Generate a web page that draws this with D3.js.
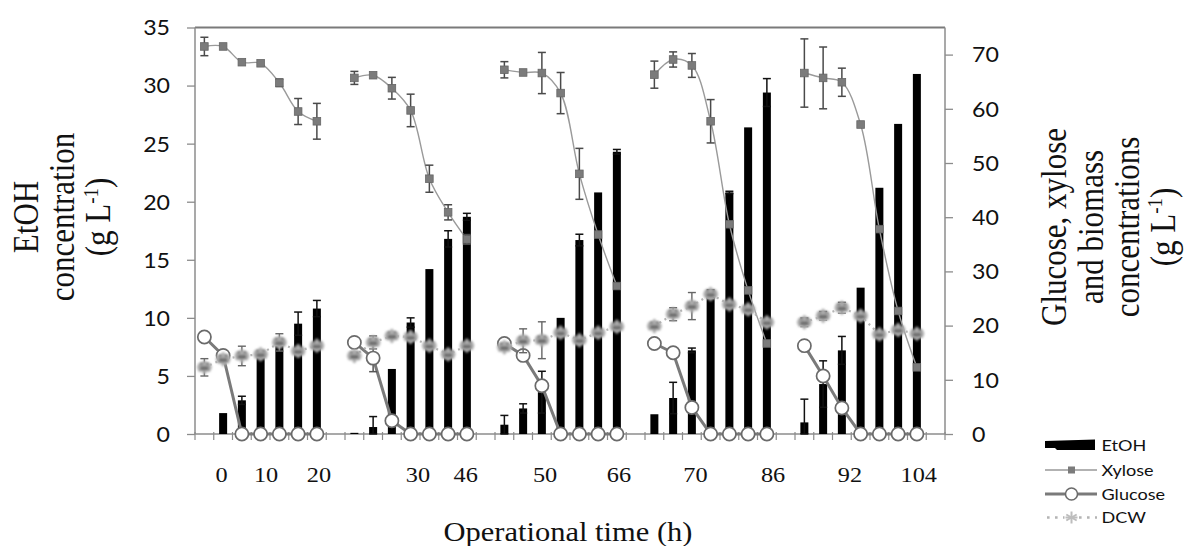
<!DOCTYPE html>
<html>
<head>
<meta charset="utf-8">
<script src="https://cdn.jsdelivr.net/npm/d3@7"></script>
<style>
  body { margin: 0; background: #fff; }
  svg { display: block; }
</style>
</head>
<body>
<svg id="chart" width="1185" height="546"></svg>
<script>
// Five fed-batch cycles of seven samples each; an empty slot separates the cycles.
const slotCount = 40;

// EtOH concentration (g/L, left axis) and its standard deviation
const etoh    = [0, 1.8, 2.9, 6.6, 7.6, 9.5, 10.8, null,
                 0.1, 0.6, 5.6, 9.6, 14.2, 16.8, 18.7, null,
                 0.8, 2.2, 3.6, 10.0, 16.7, 20.8, 24.3, null,
                 1.7, 3.1, 7.2, 11.8, 20.8, 26.4, 29.4, null,
                 1.0, 4.3, 7.2, 12.6, 21.2, 26.7, 31.0, null];
const etohErr = [0, 0, 0.35, 0, 0, 1.0, 0.7, null,
                 0, 0.9, 0, 0.4, 0, 0.7, 0.3, null,
                 0.8, 0.4, 1.8, 0, 0.5, 0, 0.2, null,
                 0, 1.35, 0.2, 0, 0.1, 0, 1.2, null,
                 2.0, 2.0, 1.2, 0, 0, 0, 0, null];

// Xylose, glucose and biomass (DCW) concentrations (g/L, right axis)
const xylose    = [71.5, 71.5, 68.6, 68.4, 64.8, 59.5, 57.7, null,
                   65.7, 66.2, 63.8, 59.7, 47.1, 40.9, 35.9, null,
                   67.2, 66.7, 66.6, 62.9, 48.0, 36.8, 27.3, null,
                   66.3, 69.1, 68.0, 57.7, 38.7, 26.5, 16.7, null,
                   66.6, 65.7, 64.9, 57.1, 37.8, 22.7, 12.3, null];
const xyloseErr = [1.7, 0, 0, 0, 0.7, 2.4, 3.3, null,
                   1.2, 0, 2.0, 3.0, 2.5, 1.4, 0.9, null,
                   1.5, 0, 3.8, 3.8, 4.7, 0, 0, null,
                   2.5, 1.4, 2.2, 4.0, 0, 0, 0, null,
                   6.3, 5.7, 2.6, 0, 0, 0, 0, null];
const glucose    = [17.9, 14.5, 0, 0, 0, 0, 0, null,
                    16.9, 14.0, 2.45, 0, 0, 0, 0, null,
                    16.7, 14.5, 8.9, 0, 0, 0, 0, null,
                    16.7, 15.0, 4.9, 0, 0, 0, 0, null,
                    16.3, 10.7, 4.8, 0, 0, 0, 0, null];
const glucoseErr = [0, 0, 0, 0, 0, 0, 0, null,
                    0, 2.5, 0, 0, 0, 0, 0, null,
                    0, 0, 0, 0, 0, 0, 0, null,
                    0, 0, 0, 0, 0, 0, 0, null,
                    0, 0, 0, 0, 0, 0, 0, null];
const dcw    = [12.3, 13.8, 14.4, 14.7, 16.9, 15.3, 16.3, null,
                14.4, 16.9, 18.1, 17.9, 16.3, 14.7, 16.3, null,
                16.0, 17.2, 17.3, 18.7, 17.3, 18.7, 19.8, null,
                19.9, 22.1, 23.6, 25.8, 23.9, 23.0, 20.6, null,
                20.6, 21.8, 23.3, 21.8, 18.4, 19.2, 18.5, null];
const dcwErr = [1.6, 0, 1.8, 0, 1.6, 0, 0, null,
                0, 1.2, 0, 0, 0, 0, 0, null,
                0, 2.2, 3.4, 0, 0, 0, 0, null,
                0, 1.2, 2.5, 0.8, 0, 0, 0, null,
                0.8, 0.8, 1.0, 0, 0, 0, 0, null];

// Operational time labels and the slot each one sits under
const timeLabels = ["0", "10", "20", "30", "46", "50", "66", "70", "86", "92", "104"];
const timeSlots  = [0.92, 3.29, 6.11, 11.39, 13.94, 18.17, 22.11, 26.19, 30.33, 34.43, 38.1];

const leftTicks  = [0, 5, 10, 15, 20, 25, 30, 35];
const rightTicks = [0, 10, 20, 30, 40, 50, 60, 70];
const legendNames = ["EtOH", "Xylose", "Glucose", "DCW"];

// ---------------------------------------------------------------------------
const SX = 1.13;               // horizontal glyph widening used for all text
const plot = { left: 195, right: 945, top: 27.5, bottom: 434 };
const serif = "'Liberation Serif', 'Times New Roman', serif";
const sans = "Lato, 'Open Sans', sans-serif";

const svg = d3.select("#chart");
const x  = d3.scaleLinear().domain([0, slotCount]).range([plot.left, plot.right]);
const yL = d3.scaleLinear().domain([0, 35]).range([plot.bottom, plot.top]);
const yR = d3.scaleLinear().domain([0, 75]).range([plot.bottom, plot.top]);
const cx = i => x(i + 0.5);

const defs = svg.append("defs");
defs.append("filter").attr("id", "haze").attr("x", "-50%").attr("y", "-50%")
  .attr("width", "200%").attr("height", "200%")
  .append("feGaussianBlur").attr("stdDeviation", 1.3);

// text helper: anchor point, widened glyphs
function label(g, txt, px, py, opts) {
  const t = g.append("text")
    .attr("transform", `translate(${px},${py}) scale(${SX},1)` + (opts.rotate ? " rotate(-90)" : ""))
    .attr("text-anchor", opts.anchor || "middle")
    .attr("font-family", opts.family)
    .attr("font-size", opts.size)
    .attr("fill", opts.fill || "#111");
  return t;
}

// --- frame and axes --------------------------------------------------------
const axisColor = "#8c8c8c";
svg.append("line").attr("x1", plot.left).attr("x2", plot.right)
  .attr("y1", plot.top).attr("y2", plot.top)
  .attr("stroke", "#7a7a7a").attr("stroke-width", 2);

const gL = svg.append("g").attr("transform", `translate(${plot.left},0)`)
  .call(d3.axisLeft(yL).tickValues(leftTicks).tickSize(8).tickSizeOuter(0));
const gR = svg.append("g").attr("transform", `translate(${plot.right},0)`)
  .call(d3.axisRight(yR).tickValues(rightTicks).tickSize(8).tickSizeOuter(0));
[gL, gR].forEach(g => {
  g.select(".domain").attr("stroke", axisColor).attr("stroke-width", 1.5)
    .attr("d", `M0,${plot.top}V${plot.bottom}`);
  g.selectAll(".tick line").attr("stroke", axisColor).attr("stroke-width", 1.3);
  g.selectAll(".tick text").attr("font-family", sans).attr("font-size", 20.5)
    .attr("fill", "#111").attr("dy", "0.36em");
});
gL.selectAll(".tick text").attr("x", -25 / SX).attr("transform", `scale(${SX},1)`);
gR.selectAll(".tick text").attr("x", 27 / SX).attr("transform", `scale(${SX},1)`);

// category axis: a tick at every slot boundary
const gX = svg.append("g");
gX.append("line").attr("x1", plot.left).attr("x2", plot.right)
  .attr("y1", plot.bottom).attr("y2", plot.bottom)
  .attr("stroke", axisColor).attr("stroke-width", 1.5);
gX.selectAll("line.tick").data(d3.range(slotCount + 1)).join("line")
  .attr("class", "tick")
  .attr("x1", d => x(d)).attr("x2", d => x(d))
  .attr("y1", plot.bottom - 2).attr("y2", plot.bottom + 6)
  .attr("stroke", axisColor).attr("stroke-width", 1.2);
timeLabels.forEach((t, k) => {
  label(gX, t, x(timeSlots[k] + 0.5), 482, { family: serif, size: 21.5 }).text(t);
});

// --- EtOH bars -------------------------------------------------------------
const barW = 8;
const idx = d3.range(slotCount);
svg.append("g").selectAll("rect").data(idx.filter(i => etoh[i] != null)).join("rect")
  .attr("x", i => cx(i) - barW / 2).attr("width", barW)
  .attr("y", i => yL(etoh[i])).attr("height", i => yL(0) - yL(etoh[i]))
  .attr("fill", "#000");

function errorBars(values, errs, scale, color, width) {
  const g = svg.append("g").attr("stroke", color).attr("stroke-width", width).attr("fill", "none");
  idx.filter(i => values[i] != null && errs[i] > 0).forEach(i => {
    const lo = scale(Math.max(0, values[i] - errs[i])), hi = scale(values[i] + errs[i]);
    g.append("line").attr("x1", cx(i)).attr("x2", cx(i)).attr("y1", lo).attr("y2", hi);
    [lo, hi].forEach(yy => g.append("line").attr("x1", cx(i) - 4).attr("x2", cx(i) + 4)
      .attr("y1", yy).attr("y2", yy));
  });
}
errorBars(etoh, etohErr, yL, "#111", 1.5);

// --- Xylose (smoothed line, square markers) --------------------------------
const lineOf = (vals, curve) => d3.line()
  .defined(i => vals[i] != null)
  .x(i => cx(i)).y(i => yR(vals[i])).curve(curve);

svg.append("path").attr("d", lineOf(xylose, d3.curveCatmullRom.alpha(0.5))(idx))
  .attr("fill", "none").attr("stroke", "#9a9a9a").attr("stroke-width", 1.4);
errorBars(xylose, xyloseErr, yR, "#4a4a4a", 1.5);
svg.append("g").selectAll("rect").data(idx.filter(i => xylose[i] != null)).join("rect")
  .attr("x", i => cx(i) - 3.8).attr("y", i => yR(xylose[i]) - 3.8)
  .attr("width", 7.6).attr("height", 7.6)
  .attr("fill", "#7b7b7b").attr("stroke", "#666").attr("stroke-width", 0.8);

// --- Glucose (straight line, open circles) ---------------------------------
svg.append("path").attr("d", lineOf(glucose, d3.curveLinear)(idx))
  .attr("fill", "none").attr("stroke", "#7a7a7a").attr("stroke-width", 3);
errorBars(glucose, glucoseErr, yR, "#555", 1.5);
svg.append("g").selectAll("circle").data(idx.filter(i => glucose[i] != null)).join("circle")
  .attr("cx", i => cx(i)).attr("cy", i => yR(glucose[i])).attr("r", 6.6)
  .attr("fill", "#fff").attr("stroke", "#6a6a6a").attr("stroke-width", 1.7);

// --- DCW (dotted line, hazy asterisk markers) ------------------------------
svg.append("path").attr("d", lineOf(dcw, d3.curveLinear)(idx))
  .attr("fill", "none").attr("stroke", "#b4b4b4").attr("stroke-width", 2.2)
  .attr("stroke-dasharray", "2,4");
errorBars(dcw, dcwErr, yR, "#666", 1.4);

function asterisk(g, px, py, r, color, w) {
  [0, 60, 120].forEach(a => {
    const rad = a * Math.PI / 180;
    g.append("line")
      .attr("x1", px - r * Math.sin(rad)).attr("y1", py - r * Math.cos(rad))
      .attr("x2", px + r * Math.sin(rad)).attr("y2", py + r * Math.cos(rad))
      .attr("stroke", color).attr("stroke-width", w);
  });
  g.append("line").attr("x1", px - r).attr("x2", px + r).attr("y1", py).attr("y2", py)
    .attr("stroke", color).attr("stroke-width", w);
}
const gD = svg.append("g").attr("filter", "url(#haze)");
idx.filter(i => dcw[i] != null).forEach(i => {
  const px = cx(i), py = yR(dcw[i]);
  gD.append("ellipse").attr("cx", px).attr("cy", py).attr("rx", 7.5).attr("ry", 5.5)
    .attr("fill", "#c4c4c4");
  asterisk(gD, px, py, 7, "#a9a9a9", 2.6);
  gD.append("rect").attr("x", px - 4).attr("y", py - 1).attr("width", 8).attr("height", 4)
    .attr("fill", "#6e6e6e");
  gD.append("circle").attr("cx", px - 3).attr("cy", py - 4).attr("r", 1.2).attr("fill", "#555");
  gD.append("circle").attr("cx", px + 3).attr("cy", py - 4).attr("r", 1.2).attr("fill", "#555");
});

// --- axis titles -----------------------------------------------------------
const tTitle = { family: serif, size: 31, rotate: true, fill: "#111" };
function unitLine(el) {
  el.append("tspan").text("(g L");
  el.append("tspan").attr("font-size", 19).attr("dy", -11).text("-1");
  el.append("tspan").attr("dy", 11).text(")");
}
const leftTitle = [["EtOH", 37.5], ["concentration", 73.5], ["(g L", 110]];
leftTitle.forEach(([t, bx]) => {
  const el = label(svg, "", bx, 217, tTitle);
  if (t === "(g L") unitLine(el); else el.text(t);
});
const rightTitle = [["Glucose, xylose", 1066], ["and biomass", 1102.5], ["concentrations", 1139], ["(g L", 1174.5]];
rightTitle.forEach(([t, bx]) => {
  const el = label(svg, "", bx, 227, tTitle);
  if (t === "(g L") unitLine(el); else el.text(t);
});
label(svg, "", 568, 541, { family: serif, size: 27 }).text("Operational time (h)");

// --- legend ----------------------------------------------------------------
const lg = svg.append("g");
const rowY = [445, 470, 494, 517.5];
const sw0 = 1045, sw1 = 1097, swC = 1071.5;
lg.append("path")
  .attr("d", `M${sw0},${rowY[0] - 4}L${sw1 - 2},${rowY[0] - 5.5}L${sw1 - 2},${rowY[0] + 5}L${sw0 + 12},${rowY[0] + 5}L${sw0 + 10},${rowY[0] + 3}L${sw0},${rowY[0] + 3}Z`)
  .attr("fill", "#000");
lg.append("line").attr("x1", sw0).attr("x2", sw1).attr("y1", rowY[1]).attr("y2", rowY[1])
  .attr("stroke", "#999").attr("stroke-width", 1.4);
lg.append("rect").attr("x", swC - 3.5).attr("y", rowY[1] - 3.5).attr("width", 7).attr("height", 7)
  .attr("fill", "#7b7b7b");
lg.append("line").attr("x1", sw0).attr("x2", sw1).attr("y1", rowY[2]).attr("y2", rowY[2])
  .attr("stroke", "#7a7a7a").attr("stroke-width", 3);
lg.append("circle").attr("cx", swC).attr("cy", rowY[2]).attr("r", 6)
  .attr("fill", "#fff").attr("stroke", "#6a6a6a").attr("stroke-width", 1.5);
lg.append("line").attr("x1", sw0 + 2).attr("x2", sw1).attr("y1", rowY[3]).attr("y2", rowY[3])
  .attr("stroke", "#b4b4b4").attr("stroke-width", 2.6).attr("stroke-dasharray", "2.6,5.4");
lg.append("rect").attr("x", swC - 7).attr("y", rowY[3] - 6).attr("width", 14).attr("height", 12).attr("fill", "#fff");
asterisk(lg, swC, rowY[3], 6, "#bdbdbd", 2);
legendNames.forEach((n, k) => {
  label(lg, n, 1101.5, rowY[k], { family: sans, size: 16, anchor: "start", fill: "#111" })
    .attr("dy", "0.36em").text(n);
});
</script>
</body>
</html>
